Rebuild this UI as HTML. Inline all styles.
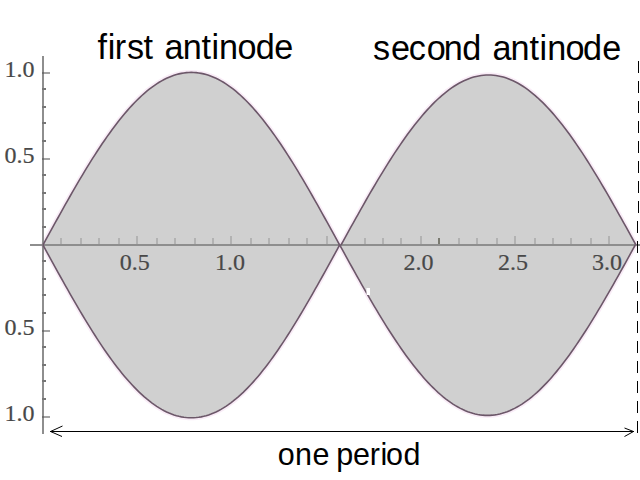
<!DOCTYPE html><html><head><meta charset="utf-8"><style>html,body{margin:0;padding:0;background:#fff}svg{display:block}</style></head><body>
<svg width="640" height="480" viewBox="0 0 640 480">
<rect width="640" height="480" fill="#fff"/>
<polyline points="43.00,245.00 45.47,240.48 47.94,235.97 50.41,231.46 52.89,226.96 55.36,222.47 57.83,218.00 60.30,213.55 62.77,209.11 65.25,204.71 67.72,200.33 70.19,195.98 72.66,191.66 75.13,187.38 77.60,183.15 80.08,178.95 82.55,174.80 85.02,170.69 87.49,166.64 89.96,162.64 92.43,158.70 94.91,154.82 97.38,151.00 99.85,147.24 102.32,143.55 104.79,139.93 107.26,136.38 109.74,132.91 112.21,129.51 114.68,126.19 117.15,122.95 119.62,119.80 122.09,116.73 124.57,113.75 127.04,110.86 129.51,108.07 131.98,105.36 134.45,102.76 136.92,100.25 139.40,97.83 141.87,95.52 144.34,93.32 146.81,91.21 149.28,89.21 151.75,87.32 154.23,85.54 156.70,83.86 159.17,82.30 161.64,80.85 164.11,79.51 166.58,78.28 169.06,77.17 171.53,76.17 174.00,75.29 176.47,74.52 178.94,73.88 181.41,73.35 183.88,72.93 186.36,72.64 188.83,72.46 191.30,72.40 193.77,72.46 196.24,72.64 198.72,72.93 201.19,73.35 203.66,73.88 206.13,74.52 208.60,75.29 211.07,76.17 213.54,77.17 216.02,78.28 218.49,79.51 220.96,80.85 223.43,82.30 225.90,83.86 228.38,85.54 230.85,87.32 233.32,89.21 235.79,91.21 238.26,93.32 240.73,95.52 243.21,97.83 245.68,100.25 248.15,102.76 250.62,105.36 253.09,108.07 255.56,110.86 258.03,113.75 260.51,116.73 262.98,119.80 265.45,122.95 267.92,126.19 270.39,129.51 272.87,132.91 275.34,136.38 277.81,139.93 280.28,143.55 282.75,147.24 285.22,151.00 287.69,154.82 290.17,158.70 292.64,162.64 295.11,166.64 297.58,170.69 300.05,174.80 302.53,178.95 305.00,183.15 307.47,187.38 309.94,191.66 312.41,195.98 314.88,200.33 317.36,204.71 319.83,209.11 322.30,213.55 324.77,218.00 327.24,222.47 329.71,226.96 332.19,231.46 334.66,235.97 337.13,240.48 339.60,245.00" fill="none" stroke="#f6e4f4" stroke-opacity="0.7" stroke-width="5"/>
<polyline points="43.00,245.00 45.47,249.52 47.94,254.04 50.41,258.56 52.89,263.06 55.36,267.55 57.83,272.03 60.30,276.49 62.77,280.93 65.25,285.34 67.72,289.72 70.19,294.08 72.66,298.40 75.13,302.68 77.60,306.93 80.08,311.13 82.55,315.28 85.02,319.39 87.49,323.45 89.96,327.45 92.43,331.40 94.91,335.29 97.38,339.11 99.85,342.87 102.32,346.57 104.79,350.19 107.26,353.75 109.74,357.22 112.21,360.63 114.68,363.95 117.15,367.19 119.62,370.34 122.09,373.42 124.57,376.40 127.04,379.29 129.51,382.09 131.98,384.80 134.45,387.41 136.92,389.92 139.40,392.34 141.87,394.65 144.34,396.86 146.81,398.97 149.28,400.97 151.75,402.86 154.23,404.65 156.70,406.32 159.17,407.89 161.64,409.34 164.11,410.68 166.58,411.91 169.06,413.03 171.53,414.02 174.00,414.91 176.47,415.67 178.94,416.32 181.41,416.85 183.88,417.27 186.36,417.56 188.83,417.74 191.30,417.80 193.77,417.74 196.24,417.56 198.72,417.27 201.19,416.85 203.66,416.32 206.13,415.67 208.60,414.91 211.07,414.02 213.54,413.03 216.02,411.91 218.49,410.68 220.96,409.34 223.43,407.89 225.90,406.32 228.38,404.65 230.85,402.86 233.32,400.97 235.79,398.97 238.26,396.86 240.73,394.65 243.21,392.34 245.68,389.92 248.15,387.41 250.62,384.80 253.09,382.09 255.56,379.29 258.03,376.40 260.51,373.42 262.98,370.34 265.45,367.19 267.92,363.95 270.39,360.63 272.87,357.22 275.34,353.75 277.81,350.19 280.28,346.57 282.75,342.87 285.22,339.11 287.69,335.29 290.17,331.40 292.64,327.45 295.11,323.45 297.58,319.39 300.05,315.28 302.53,311.13 305.00,306.93 307.47,302.68 309.94,298.40 312.41,294.08 314.88,289.72 317.36,285.34 319.83,280.93 322.30,276.49 324.77,272.03 327.24,267.55 329.71,263.06 332.19,258.56 334.66,254.04 337.13,249.52 339.60,245.00" fill="none" stroke="#f6e4f4" stroke-opacity="0.7" stroke-width="5"/>
<polyline points="341.00,245.00 343.46,240.55 345.92,236.10 348.38,231.66 350.83,227.23 353.29,222.81 355.75,218.41 358.21,214.02 360.67,209.66 363.12,205.31 365.58,201.00 368.04,196.72 370.50,192.47 372.96,188.25 375.42,184.08 377.88,179.94 380.33,175.85 382.79,171.81 385.25,167.82 387.71,163.88 390.17,160.00 392.62,156.18 395.08,152.41 397.54,148.71 400.00,145.08 402.46,141.51 404.92,138.02 407.38,134.59 409.83,131.25 412.29,127.98 414.75,124.79 417.21,121.69 419.67,118.67 422.12,115.73 424.58,112.89 427.04,110.13 429.50,107.47 431.96,104.90 434.42,102.43 436.88,100.05 439.33,97.78 441.79,95.60 444.25,93.53 446.71,91.56 449.17,89.70 451.62,87.94 454.08,86.29 456.54,84.75 459.00,83.32 461.46,82.00 463.92,80.79 466.38,79.70 468.83,78.71 471.29,77.85 473.75,77.09 476.21,76.45 478.67,75.93 481.12,75.52 483.58,75.23 486.04,75.06 488.50,75.00 490.96,75.06 493.42,75.23 495.88,75.52 498.33,75.93 500.79,76.45 503.25,77.09 505.71,77.85 508.17,78.71 510.62,79.70 513.08,80.79 515.54,82.00 518.00,83.32 520.46,84.75 522.92,86.29 525.38,87.94 527.83,89.70 530.29,91.56 532.75,93.53 535.21,95.60 537.67,97.78 540.12,100.05 542.58,102.43 545.04,104.90 547.50,107.47 549.96,110.13 552.42,112.89 554.88,115.73 557.33,118.67 559.79,121.69 562.25,124.79 564.71,127.98 567.17,131.25 569.62,134.59 572.08,138.02 574.54,141.51 577.00,145.08 579.46,148.71 581.92,152.41 584.38,156.18 586.83,160.00 589.29,163.88 591.75,167.82 594.21,171.81 596.67,175.85 599.12,179.94 601.58,184.08 604.04,188.25 606.50,192.47 608.96,196.72 611.42,201.00 613.88,205.31 616.33,209.66 618.79,214.02 621.25,218.41 623.71,222.81 626.17,227.23 628.62,231.66 631.08,236.10 633.54,240.55 636.00,245.00" fill="none" stroke="#f6e4f4" stroke-opacity="0.7" stroke-width="5"/>
<polyline points="339.70,245.00 342.16,249.46 344.63,253.92 347.09,258.37 349.55,262.81 352.02,267.24 354.48,271.66 356.94,276.05 359.41,280.43 361.87,284.78 364.33,289.10 366.80,293.40 369.26,297.66 371.72,301.88 374.19,306.07 376.65,310.21 379.11,314.31 381.58,318.36 384.04,322.36 386.50,326.31 388.97,330.20 391.43,334.03 393.89,337.81 396.36,341.52 398.82,345.16 401.28,348.73 403.75,352.24 406.21,355.67 408.67,359.02 411.14,362.30 413.60,365.49 416.06,368.60 418.53,371.63 420.99,374.57 423.45,377.43 425.92,380.19 428.38,382.86 430.84,385.43 433.31,387.91 435.77,390.29 438.23,392.57 440.70,394.75 443.16,396.83 445.62,398.80 448.09,400.67 450.55,402.43 453.01,404.08 455.48,405.63 457.94,407.06 460.40,408.38 462.87,409.59 465.33,410.69 467.79,411.68 470.26,412.55 472.72,413.30 475.18,413.94 477.65,414.47 480.11,414.87 482.57,415.17 485.04,415.34 487.50,415.40 489.96,415.34 492.43,415.17 494.89,414.87 497.35,414.47 499.82,413.94 502.28,413.30 504.74,412.55 507.21,411.68 509.67,410.69 512.13,409.59 514.60,408.38 517.06,407.06 519.52,405.63 521.99,404.08 524.45,402.43 526.91,400.67 529.38,398.80 531.84,396.83 534.30,394.75 536.77,392.57 539.23,390.29 541.69,387.91 544.16,385.43 546.62,382.86 549.08,380.19 551.55,377.43 554.01,374.57 556.47,371.63 558.94,368.60 561.40,365.49 563.86,362.30 566.33,359.02 568.79,355.67 571.25,352.24 573.72,348.73 576.18,345.16 578.64,341.52 581.11,337.81 583.57,334.03 586.03,330.20 588.50,326.31 590.96,322.36 593.42,318.36 595.89,314.31 598.35,310.21 600.81,306.07 603.28,301.88 605.74,297.66 608.20,293.40 610.67,289.10 613.13,284.78 615.59,280.43 618.06,276.05 620.52,271.66 622.98,267.24 625.45,262.81 627.91,258.37 630.37,253.92 632.84,249.46 635.30,245.00" fill="none" stroke="#f6e4f4" stroke-opacity="0.7" stroke-width="5"/>
<polygon points="43.00,245.00 45.47,240.48 47.94,235.97 50.41,231.46 52.89,226.96 55.36,222.47 57.83,218.00 60.30,213.55 62.77,209.11 65.25,204.71 67.72,200.33 70.19,195.98 72.66,191.66 75.13,187.38 77.60,183.15 80.08,178.95 82.55,174.80 85.02,170.69 87.49,166.64 89.96,162.64 92.43,158.70 94.91,154.82 97.38,151.00 99.85,147.24 102.32,143.55 104.79,139.93 107.26,136.38 109.74,132.91 112.21,129.51 114.68,126.19 117.15,122.95 119.62,119.80 122.09,116.73 124.57,113.75 127.04,110.86 129.51,108.07 131.98,105.36 134.45,102.76 136.92,100.25 139.40,97.83 141.87,95.52 144.34,93.32 146.81,91.21 149.28,89.21 151.75,87.32 154.23,85.54 156.70,83.86 159.17,82.30 161.64,80.85 164.11,79.51 166.58,78.28 169.06,77.17 171.53,76.17 174.00,75.29 176.47,74.52 178.94,73.88 181.41,73.35 183.88,72.93 186.36,72.64 188.83,72.46 191.30,72.40 193.77,72.46 196.24,72.64 198.72,72.93 201.19,73.35 203.66,73.88 206.13,74.52 208.60,75.29 211.07,76.17 213.54,77.17 216.02,78.28 218.49,79.51 220.96,80.85 223.43,82.30 225.90,83.86 228.38,85.54 230.85,87.32 233.32,89.21 235.79,91.21 238.26,93.32 240.73,95.52 243.21,97.83 245.68,100.25 248.15,102.76 250.62,105.36 253.09,108.07 255.56,110.86 258.03,113.75 260.51,116.73 262.98,119.80 265.45,122.95 267.92,126.19 270.39,129.51 272.87,132.91 275.34,136.38 277.81,139.93 280.28,143.55 282.75,147.24 285.22,151.00 287.69,154.82 290.17,158.70 292.64,162.64 295.11,166.64 297.58,170.69 300.05,174.80 302.53,178.95 305.00,183.15 307.47,187.38 309.94,191.66 312.41,195.98 314.88,200.33 317.36,204.71 319.83,209.11 322.30,213.55 324.77,218.00 327.24,222.47 329.71,226.96 332.19,231.46 334.66,235.97 337.13,240.48 339.60,245.00 339.60,245.00 337.13,249.52 334.66,254.04 332.19,258.56 329.71,263.06 327.24,267.55 324.77,272.03 322.30,276.49 319.83,280.93 317.36,285.34 314.88,289.72 312.41,294.08 309.94,298.40 307.47,302.68 305.00,306.93 302.53,311.13 300.05,315.28 297.58,319.39 295.11,323.45 292.64,327.45 290.17,331.40 287.69,335.29 285.22,339.11 282.75,342.87 280.28,346.57 277.81,350.19 275.34,353.75 272.87,357.22 270.39,360.63 267.92,363.95 265.45,367.19 262.98,370.34 260.51,373.42 258.03,376.40 255.56,379.29 253.09,382.09 250.62,384.80 248.15,387.41 245.68,389.92 243.21,392.34 240.73,394.65 238.26,396.86 235.79,398.97 233.32,400.97 230.85,402.86 228.38,404.65 225.90,406.32 223.43,407.89 220.96,409.34 218.49,410.68 216.02,411.91 213.54,413.03 211.07,414.02 208.60,414.91 206.13,415.67 203.66,416.32 201.19,416.85 198.72,417.27 196.24,417.56 193.77,417.74 191.30,417.80 188.83,417.74 186.36,417.56 183.88,417.27 181.41,416.85 178.94,416.32 176.47,415.67 174.00,414.91 171.53,414.02 169.06,413.03 166.58,411.91 164.11,410.68 161.64,409.34 159.17,407.89 156.70,406.32 154.23,404.65 151.75,402.86 149.28,400.97 146.81,398.97 144.34,396.86 141.87,394.65 139.40,392.34 136.92,389.92 134.45,387.41 131.98,384.80 129.51,382.09 127.04,379.29 124.57,376.40 122.09,373.42 119.62,370.34 117.15,367.19 114.68,363.95 112.21,360.63 109.74,357.22 107.26,353.75 104.79,350.19 102.32,346.57 99.85,342.87 97.38,339.11 94.91,335.29 92.43,331.40 89.96,327.45 87.49,323.45 85.02,319.39 82.55,315.28 80.08,311.13 77.60,306.93 75.13,302.68 72.66,298.40 70.19,294.08 67.72,289.72 65.25,285.34 62.77,280.93 60.30,276.49 57.83,272.03 55.36,267.55 52.89,263.06 50.41,258.56 47.94,254.04 45.47,249.52 43.00,245.00" fill="#d0d0d0"/>
<polygon points="341.00,245.00 343.46,240.55 345.92,236.10 348.38,231.66 350.83,227.23 353.29,222.81 355.75,218.41 358.21,214.02 360.67,209.66 363.12,205.31 365.58,201.00 368.04,196.72 370.50,192.47 372.96,188.25 375.42,184.08 377.88,179.94 380.33,175.85 382.79,171.81 385.25,167.82 387.71,163.88 390.17,160.00 392.62,156.18 395.08,152.41 397.54,148.71 400.00,145.08 402.46,141.51 404.92,138.02 407.38,134.59 409.83,131.25 412.29,127.98 414.75,124.79 417.21,121.69 419.67,118.67 422.12,115.73 424.58,112.89 427.04,110.13 429.50,107.47 431.96,104.90 434.42,102.43 436.88,100.05 439.33,97.78 441.79,95.60 444.25,93.53 446.71,91.56 449.17,89.70 451.62,87.94 454.08,86.29 456.54,84.75 459.00,83.32 461.46,82.00 463.92,80.79 466.38,79.70 468.83,78.71 471.29,77.85 473.75,77.09 476.21,76.45 478.67,75.93 481.12,75.52 483.58,75.23 486.04,75.06 488.50,75.00 490.96,75.06 493.42,75.23 495.88,75.52 498.33,75.93 500.79,76.45 503.25,77.09 505.71,77.85 508.17,78.71 510.62,79.70 513.08,80.79 515.54,82.00 518.00,83.32 520.46,84.75 522.92,86.29 525.38,87.94 527.83,89.70 530.29,91.56 532.75,93.53 535.21,95.60 537.67,97.78 540.12,100.05 542.58,102.43 545.04,104.90 547.50,107.47 549.96,110.13 552.42,112.89 554.88,115.73 557.33,118.67 559.79,121.69 562.25,124.79 564.71,127.98 567.17,131.25 569.62,134.59 572.08,138.02 574.54,141.51 577.00,145.08 579.46,148.71 581.92,152.41 584.38,156.18 586.83,160.00 589.29,163.88 591.75,167.82 594.21,171.81 596.67,175.85 599.12,179.94 601.58,184.08 604.04,188.25 606.50,192.47 608.96,196.72 611.42,201.00 613.88,205.31 616.33,209.66 618.79,214.02 621.25,218.41 623.71,222.81 626.17,227.23 628.62,231.66 631.08,236.10 633.54,240.55 636.00,245.00 635.30,245.00 632.84,249.46 630.37,253.92 627.91,258.37 625.45,262.81 622.98,267.24 620.52,271.66 618.06,276.05 615.59,280.43 613.13,284.78 610.67,289.10 608.20,293.40 605.74,297.66 603.28,301.88 600.81,306.07 598.35,310.21 595.89,314.31 593.42,318.36 590.96,322.36 588.50,326.31 586.03,330.20 583.57,334.03 581.11,337.81 578.64,341.52 576.18,345.16 573.72,348.73 571.25,352.24 568.79,355.67 566.33,359.02 563.86,362.30 561.40,365.49 558.94,368.60 556.47,371.63 554.01,374.57 551.55,377.43 549.08,380.19 546.62,382.86 544.16,385.43 541.69,387.91 539.23,390.29 536.77,392.57 534.30,394.75 531.84,396.83 529.38,398.80 526.91,400.67 524.45,402.43 521.99,404.08 519.52,405.63 517.06,407.06 514.60,408.38 512.13,409.59 509.67,410.69 507.21,411.68 504.74,412.55 502.28,413.30 499.82,413.94 497.35,414.47 494.89,414.87 492.43,415.17 489.96,415.34 487.50,415.40 485.04,415.34 482.57,415.17 480.11,414.87 477.65,414.47 475.18,413.94 472.72,413.30 470.26,412.55 467.79,411.68 465.33,410.69 462.87,409.59 460.40,408.38 457.94,407.06 455.48,405.63 453.01,404.08 450.55,402.43 448.09,400.67 445.62,398.80 443.16,396.83 440.70,394.75 438.23,392.57 435.77,390.29 433.31,387.91 430.84,385.43 428.38,382.86 425.92,380.19 423.45,377.43 420.99,374.57 418.53,371.63 416.06,368.60 413.60,365.49 411.14,362.30 408.67,359.02 406.21,355.67 403.75,352.24 401.28,348.73 398.82,345.16 396.36,341.52 393.89,337.81 391.43,334.03 388.97,330.20 386.50,326.31 384.04,322.36 381.58,318.36 379.11,314.31 376.65,310.21 374.19,306.07 371.72,301.88 369.26,297.66 366.80,293.40 364.33,289.10 361.87,284.78 359.41,280.43 356.94,276.05 354.48,271.66 352.02,267.24 349.55,262.81 347.09,258.37 344.63,253.92 342.16,249.46 339.70,245.00" fill="#d0d0d0"/>
<rect x="30" y="244" width="610" height="2" fill="#8e8e8e"/>
<rect x="42" y="56" width="2" height="378" fill="#8e8e8e"/>
<rect x="60" y="238" width="2" height="6" fill="#b2b2b2"/>
<rect x="80" y="238" width="2" height="6" fill="#b2b2b2"/>
<rect x="98" y="238" width="2" height="6" fill="#b2b2b2"/>
<rect x="118" y="238" width="2" height="6" fill="#b2b2b2"/>
<rect x="136" y="236" width="2" height="8" fill="#b2b2b2"/>
<rect x="156" y="238" width="2" height="6" fill="#b2b2b2"/>
<rect x="174" y="238" width="2" height="6" fill="#b2b2b2"/>
<rect x="194" y="238" width="2" height="6" fill="#b2b2b2"/>
<rect x="212" y="238" width="2" height="6" fill="#b2b2b2"/>
<rect x="230" y="236" width="2" height="8" fill="#b2b2b2"/>
<rect x="250" y="238" width="2" height="6" fill="#b2b2b2"/>
<rect x="268" y="238" width="2" height="6" fill="#b2b2b2"/>
<rect x="288" y="238" width="2" height="6" fill="#b2b2b2"/>
<rect x="306" y="238" width="2" height="6" fill="#b2b2b2"/>
<rect x="326" y="236" width="2" height="8" fill="#b2b2b2"/>
<rect x="364" y="238" width="2" height="6" fill="#b2b2b2"/>
<rect x="382" y="238" width="2" height="6" fill="#b2b2b2"/>
<rect x="400" y="238" width="2" height="6" fill="#b2b2b2"/>
<rect x="420" y="236" width="2" height="8" fill="#b2b2b2"/>
<rect x="438" y="238" width="2" height="6" fill="#7a7a70"/>
<rect x="458" y="238" width="2" height="6" fill="#b2b2b2"/>
<rect x="476" y="238" width="2" height="6" fill="#b2b2b2"/>
<rect x="496" y="238" width="2" height="6" fill="#b2b2b2"/>
<rect x="514" y="236" width="2" height="8" fill="#b2b2b2"/>
<rect x="534" y="238" width="2" height="6" fill="#b2b2b2"/>
<rect x="552" y="238" width="2" height="6" fill="#b2b2b2"/>
<rect x="570" y="238" width="2" height="6" fill="#b2b2b2"/>
<rect x="590" y="238" width="2" height="6" fill="#b2b2b2"/>
<rect x="608" y="236" width="2" height="8" fill="#b2b2b2"/>
<rect x="44" y="72" width="6" height="2" fill="#a4a4a4"/>
<rect x="42" y="72" width="2" height="2" fill="#6e6e6e"/>
<rect x="42" y="88" width="4" height="2" fill="#767676"/>
<rect x="42" y="106" width="4" height="2" fill="#767676"/>
<rect x="42" y="122" width="4" height="2" fill="#767676"/>
<rect x="42" y="140" width="4" height="2" fill="#767676"/>
<rect x="44" y="158" width="6" height="2" fill="#a4a4a4"/>
<rect x="42" y="158" width="2" height="2" fill="#6e6e6e"/>
<rect x="42" y="174" width="4" height="2" fill="#767676"/>
<rect x="42" y="192" width="4" height="2" fill="#767676"/>
<rect x="42" y="208" width="4" height="2" fill="#767676"/>
<rect x="42" y="226" width="4" height="2" fill="#767676"/>
<rect x="42" y="260" width="4" height="2" fill="#767676"/>
<rect x="42" y="278" width="4" height="2" fill="#767676"/>
<rect x="42" y="294" width="4" height="2" fill="#767676"/>
<rect x="42" y="312" width="4" height="2" fill="#767676"/>
<rect x="44" y="330" width="6" height="2" fill="#a4a4a4"/>
<rect x="42" y="330" width="2" height="2" fill="#6e6e6e"/>
<rect x="42" y="346" width="4" height="2" fill="#767676"/>
<rect x="42" y="364" width="4" height="2" fill="#767676"/>
<rect x="42" y="380" width="4" height="2" fill="#767676"/>
<rect x="42" y="398" width="4" height="2" fill="#767676"/>
<rect x="44" y="416" width="6" height="2" fill="#a4a4a4"/>
<rect x="42" y="416" width="2" height="2" fill="#6e6e6e"/>
<polyline points="43.00,245.00 45.47,240.48 47.94,235.97 50.41,231.46 52.89,226.96 55.36,222.47 57.83,218.00 60.30,213.55 62.77,209.11 65.25,204.71 67.72,200.33 70.19,195.98 72.66,191.66 75.13,187.38 77.60,183.15 80.08,178.95 82.55,174.80 85.02,170.69 87.49,166.64 89.96,162.64 92.43,158.70 94.91,154.82 97.38,151.00 99.85,147.24 102.32,143.55 104.79,139.93 107.26,136.38 109.74,132.91 112.21,129.51 114.68,126.19 117.15,122.95 119.62,119.80 122.09,116.73 124.57,113.75 127.04,110.86 129.51,108.07 131.98,105.36 134.45,102.76 136.92,100.25 139.40,97.83 141.87,95.52 144.34,93.32 146.81,91.21 149.28,89.21 151.75,87.32 154.23,85.54 156.70,83.86 159.17,82.30 161.64,80.85 164.11,79.51 166.58,78.28 169.06,77.17 171.53,76.17 174.00,75.29 176.47,74.52 178.94,73.88 181.41,73.35 183.88,72.93 186.36,72.64 188.83,72.46 191.30,72.40 193.77,72.46 196.24,72.64 198.72,72.93 201.19,73.35 203.66,73.88 206.13,74.52 208.60,75.29 211.07,76.17 213.54,77.17 216.02,78.28 218.49,79.51 220.96,80.85 223.43,82.30 225.90,83.86 228.38,85.54 230.85,87.32 233.32,89.21 235.79,91.21 238.26,93.32 240.73,95.52 243.21,97.83 245.68,100.25 248.15,102.76 250.62,105.36 253.09,108.07 255.56,110.86 258.03,113.75 260.51,116.73 262.98,119.80 265.45,122.95 267.92,126.19 270.39,129.51 272.87,132.91 275.34,136.38 277.81,139.93 280.28,143.55 282.75,147.24 285.22,151.00 287.69,154.82 290.17,158.70 292.64,162.64 295.11,166.64 297.58,170.69 300.05,174.80 302.53,178.95 305.00,183.15 307.47,187.38 309.94,191.66 312.41,195.98 314.88,200.33 317.36,204.71 319.83,209.11 322.30,213.55 324.77,218.00 327.24,222.47 329.71,226.96 332.19,231.46 334.66,235.97 337.13,240.48 339.60,245.00" fill="none" stroke="#6c5769" stroke-width="1.6"/>
<polyline points="43.00,245.00 45.47,249.52 47.94,254.04 50.41,258.56 52.89,263.06 55.36,267.55 57.83,272.03 60.30,276.49 62.77,280.93 65.25,285.34 67.72,289.72 70.19,294.08 72.66,298.40 75.13,302.68 77.60,306.93 80.08,311.13 82.55,315.28 85.02,319.39 87.49,323.45 89.96,327.45 92.43,331.40 94.91,335.29 97.38,339.11 99.85,342.87 102.32,346.57 104.79,350.19 107.26,353.75 109.74,357.22 112.21,360.63 114.68,363.95 117.15,367.19 119.62,370.34 122.09,373.42 124.57,376.40 127.04,379.29 129.51,382.09 131.98,384.80 134.45,387.41 136.92,389.92 139.40,392.34 141.87,394.65 144.34,396.86 146.81,398.97 149.28,400.97 151.75,402.86 154.23,404.65 156.70,406.32 159.17,407.89 161.64,409.34 164.11,410.68 166.58,411.91 169.06,413.03 171.53,414.02 174.00,414.91 176.47,415.67 178.94,416.32 181.41,416.85 183.88,417.27 186.36,417.56 188.83,417.74 191.30,417.80 193.77,417.74 196.24,417.56 198.72,417.27 201.19,416.85 203.66,416.32 206.13,415.67 208.60,414.91 211.07,414.02 213.54,413.03 216.02,411.91 218.49,410.68 220.96,409.34 223.43,407.89 225.90,406.32 228.38,404.65 230.85,402.86 233.32,400.97 235.79,398.97 238.26,396.86 240.73,394.65 243.21,392.34 245.68,389.92 248.15,387.41 250.62,384.80 253.09,382.09 255.56,379.29 258.03,376.40 260.51,373.42 262.98,370.34 265.45,367.19 267.92,363.95 270.39,360.63 272.87,357.22 275.34,353.75 277.81,350.19 280.28,346.57 282.75,342.87 285.22,339.11 287.69,335.29 290.17,331.40 292.64,327.45 295.11,323.45 297.58,319.39 300.05,315.28 302.53,311.13 305.00,306.93 307.47,302.68 309.94,298.40 312.41,294.08 314.88,289.72 317.36,285.34 319.83,280.93 322.30,276.49 324.77,272.03 327.24,267.55 329.71,263.06 332.19,258.56 334.66,254.04 337.13,249.52 339.60,245.00" fill="none" stroke="#6c5769" stroke-width="1.6"/>
<polyline points="341.00,245.00 343.46,240.55 345.92,236.10 348.38,231.66 350.83,227.23 353.29,222.81 355.75,218.41 358.21,214.02 360.67,209.66 363.12,205.31 365.58,201.00 368.04,196.72 370.50,192.47 372.96,188.25 375.42,184.08 377.88,179.94 380.33,175.85 382.79,171.81 385.25,167.82 387.71,163.88 390.17,160.00 392.62,156.18 395.08,152.41 397.54,148.71 400.00,145.08 402.46,141.51 404.92,138.02 407.38,134.59 409.83,131.25 412.29,127.98 414.75,124.79 417.21,121.69 419.67,118.67 422.12,115.73 424.58,112.89 427.04,110.13 429.50,107.47 431.96,104.90 434.42,102.43 436.88,100.05 439.33,97.78 441.79,95.60 444.25,93.53 446.71,91.56 449.17,89.70 451.62,87.94 454.08,86.29 456.54,84.75 459.00,83.32 461.46,82.00 463.92,80.79 466.38,79.70 468.83,78.71 471.29,77.85 473.75,77.09 476.21,76.45 478.67,75.93 481.12,75.52 483.58,75.23 486.04,75.06 488.50,75.00 490.96,75.06 493.42,75.23 495.88,75.52 498.33,75.93 500.79,76.45 503.25,77.09 505.71,77.85 508.17,78.71 510.62,79.70 513.08,80.79 515.54,82.00 518.00,83.32 520.46,84.75 522.92,86.29 525.38,87.94 527.83,89.70 530.29,91.56 532.75,93.53 535.21,95.60 537.67,97.78 540.12,100.05 542.58,102.43 545.04,104.90 547.50,107.47 549.96,110.13 552.42,112.89 554.88,115.73 557.33,118.67 559.79,121.69 562.25,124.79 564.71,127.98 567.17,131.25 569.62,134.59 572.08,138.02 574.54,141.51 577.00,145.08 579.46,148.71 581.92,152.41 584.38,156.18 586.83,160.00 589.29,163.88 591.75,167.82 594.21,171.81 596.67,175.85 599.12,179.94 601.58,184.08 604.04,188.25 606.50,192.47 608.96,196.72 611.42,201.00 613.88,205.31 616.33,209.66 618.79,214.02 621.25,218.41 623.71,222.81 626.17,227.23 628.62,231.66 631.08,236.10 633.54,240.55 636.00,245.00" fill="none" stroke="#6c5769" stroke-width="1.6"/>
<polyline points="339.70,245.00 342.16,249.46 344.63,253.92 347.09,258.37 349.55,262.81 352.02,267.24 354.48,271.66 356.94,276.05 359.41,280.43 361.87,284.78 364.33,289.10 366.80,293.40 369.26,297.66 371.72,301.88 374.19,306.07 376.65,310.21 379.11,314.31 381.58,318.36 384.04,322.36 386.50,326.31 388.97,330.20 391.43,334.03 393.89,337.81 396.36,341.52 398.82,345.16 401.28,348.73 403.75,352.24 406.21,355.67 408.67,359.02 411.14,362.30 413.60,365.49 416.06,368.60 418.53,371.63 420.99,374.57 423.45,377.43 425.92,380.19 428.38,382.86 430.84,385.43 433.31,387.91 435.77,390.29 438.23,392.57 440.70,394.75 443.16,396.83 445.62,398.80 448.09,400.67 450.55,402.43 453.01,404.08 455.48,405.63 457.94,407.06 460.40,408.38 462.87,409.59 465.33,410.69 467.79,411.68 470.26,412.55 472.72,413.30 475.18,413.94 477.65,414.47 480.11,414.87 482.57,415.17 485.04,415.34 487.50,415.40 489.96,415.34 492.43,415.17 494.89,414.87 497.35,414.47 499.82,413.94 502.28,413.30 504.74,412.55 507.21,411.68 509.67,410.69 512.13,409.59 514.60,408.38 517.06,407.06 519.52,405.63 521.99,404.08 524.45,402.43 526.91,400.67 529.38,398.80 531.84,396.83 534.30,394.75 536.77,392.57 539.23,390.29 541.69,387.91 544.16,385.43 546.62,382.86 549.08,380.19 551.55,377.43 554.01,374.57 556.47,371.63 558.94,368.60 561.40,365.49 563.86,362.30 566.33,359.02 568.79,355.67 571.25,352.24 573.72,348.73 576.18,345.16 578.64,341.52 581.11,337.81 583.57,334.03 586.03,330.20 588.50,326.31 590.96,322.36 593.42,318.36 595.89,314.31 598.35,310.21 600.81,306.07 603.28,301.88 605.74,297.66 608.20,293.40 610.67,289.10 613.13,284.78 615.59,280.43 618.06,276.05 620.52,271.66 622.98,267.24 625.45,262.81 627.91,258.37 630.37,253.92 632.84,249.46 635.30,245.00" fill="none" stroke="#6c5769" stroke-width="1.6"/>
<rect x="366.5" y="288" width="3.5" height="7" fill="#fff"/>
<text x="134.7" y="269.6" text-anchor="middle" font-family="Liberation Serif, serif" font-size="24" fill="#484848" stroke="#484848" stroke-width="0.2">0.5</text>
<text x="230.1" y="269.6" text-anchor="middle" font-family="Liberation Serif, serif" font-size="24" fill="#484848" stroke="#484848" stroke-width="0.2">1.0</text>
<text x="418.5" y="269.6" text-anchor="middle" font-family="Liberation Serif, serif" font-size="24" fill="#484848" stroke="#484848" stroke-width="0.2">2.0</text>
<text x="513" y="269.6" text-anchor="middle" font-family="Liberation Serif, serif" font-size="24" fill="#484848" stroke="#484848" stroke-width="0.2">2.5</text>
<text x="607" y="269.6" text-anchor="middle" font-family="Liberation Serif, serif" font-size="24" fill="#484848" stroke="#484848" stroke-width="0.2">3.0</text>
<text x="34.5" y="76.6" text-anchor="end" font-family="Liberation Serif, serif" font-size="24" fill="#484848" stroke="#484848" stroke-width="0.2">1.0</text>
<text x="34.5" y="163.0" text-anchor="end" font-family="Liberation Serif, serif" font-size="24" fill="#484848" stroke="#484848" stroke-width="0.2">0.5</text>
<text x="34.5" y="335.0" text-anchor="end" font-family="Liberation Serif, serif" font-size="24" fill="#484848" stroke="#484848" stroke-width="0.2">0.5</text>
<text x="34.5" y="421.0" text-anchor="end" font-family="Liberation Serif, serif" font-size="24" fill="#484848" stroke="#484848" stroke-width="0.2">1.0</text>
<rect x="638" y="61" width="1" height="12" fill="#000"/>
<rect x="638" y="81" width="1" height="12" fill="#000"/>
<rect x="638" y="101" width="1" height="12" fill="#000"/>
<rect x="638" y="121" width="1" height="12" fill="#000"/>
<rect x="638" y="141" width="1" height="12" fill="#000"/>
<rect x="638" y="161" width="1" height="12" fill="#000"/>
<rect x="638" y="181" width="1" height="12" fill="#000"/>
<rect x="638" y="201" width="1" height="12" fill="#000"/>
<rect x="637" y="221" width="1" height="12" fill="#000"/>
<rect x="637" y="241" width="1" height="12" fill="#000"/>
<rect x="637" y="261" width="1" height="12" fill="#000"/>
<rect x="637" y="281" width="1" height="12" fill="#000"/>
<rect x="637" y="301" width="1" height="12" fill="#000"/>
<rect x="637" y="321" width="1" height="12" fill="#000"/>
<rect x="637" y="341" width="1" height="12" fill="#000"/>
<rect x="637" y="361" width="1" height="12" fill="#000"/>
<rect x="637" y="381" width="1" height="12" fill="#000"/>
<rect x="637" y="401" width="1" height="12" fill="#000"/>
<rect x="637" y="421" width="1" height="12" fill="#000"/>
<rect x="50" y="431" width="584" height="1" fill="#000"/>
<polyline points="62.5,426 50.5,431.5 62,436.5" fill="none" stroke="#000" stroke-width="1"/>
<polyline points="624.5,428 633.5,431.5 624.5,436.5" fill="none" stroke="#000" stroke-width="1"/>
<text x="97.60 107.70 114.80 127.05 143.60 153.50 164.55 182.73 201.38 211.46 218.98 237.56 255.86 274.15" y="58.6" font-size="34.2" font-family="Liberation Sans, Arial, sans-serif" fill="#000">first antinode</text>
<text x="373.05 391.05 408.80 426.66 443.83 462.31 481.50 492.55 510.48 529.48 539.61 547.13 565.56 582.96 602.30" y="59.7" font-size="34.2" font-family="Liberation Sans, Arial, sans-serif" fill="#000">second antinode</text>
<text x="277.72 295.08 312.45 329.50 336.33 352.90 369.78 380.46 386.02 403.42" y="465.2" font-size="30.5" font-family="Liberation Sans, Arial, sans-serif" fill="#000">one period</text>
</svg></body></html>
